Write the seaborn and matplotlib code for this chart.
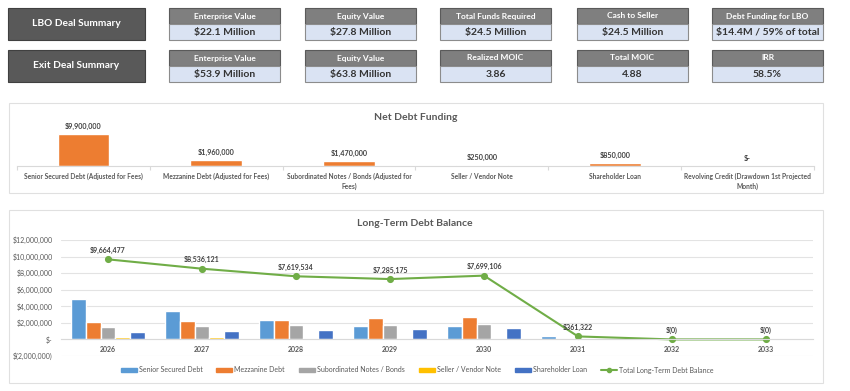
import textwrap
import numpy as np
import pandas as pd
import matplotlib
matplotlib.use("Agg")
import matplotlib.pyplot as plt
import matplotlib.patches as mpatches
from matplotlib.lines import Line2D
from matplotlib.ticker import FuncFormatter
import seaborn as sns

# ---------------- data ----------------
row_titles = ["LBO Deal Summary", "Exit Deal Summary"]
lbo_kpi_titles = ["Enterprise Value", "Equity Value", "Total Funds Required",
                  "Cash to Seller", "Debt Funding for LBO"]
lbo_kpi_values = ["$22.1 Million", "$27.8 Million", "$24.5 Million",
                  "$24.5 Million", "$14.4M / 59% of total"]
exit_kpi_titles = ["Enterprise Value", "Equity Value", "Realized MOIC",
                   "Total MOIC", "IRR"]
exit_kpi_values = ["$53.9 Million", "$63.8 Million", "3.86", "4.88", "58.5%"]

funding_labels = ["Senior Secured Debt (Adjusted for Fees)",
                  "Mezzanine Debt (Adjusted for Fees)",
                  "Subordinated Notes / Bonds (Adjusted for Fees)",
                  "Seller / Vendor Note",
                  "Shareholder Loan",
                  "Revolving Credit (Drawdown 1st Projected Month)"]
funding_values = [9900000, 1960000, 1470000, 250000, 850000, 0]

years = ["2026", "2027", "2028", "2029", "2030", "2031", "2032", "2033"]
senior = [4850000, 3400000, 2350000, 1660000, 1680000, 361322, 0, 0]
mezzanine = [2050000, 2200000, 2400000, 2550000, 2680000, 0, 0, 0]
subordinated = [1560000, 1600000, 1720000, 1780000, 1920000, 0, 0, 0]
seller_note = [250000, 250000, 0, 0, 0, 0, 0, 0]
shareholder = [950000, 1050000, 1150000, 1290000, 1420000, 0, 0, 0]
total_debt = [9664477, 8536121, 7619534, 7285175, 7699106, 361322, -0.4, -0.4]

series_names = ["Senior Secured Debt", "Mezzanine Debt", "Subordinated Notes / Bonds",
                "Seller / Vendor Note", "Shareholder Loan"]
series_colors = ["#5b9bd5", "#ed7d31", "#a5a5a5", "#ffc000", "#4472c4"]
line_name = "Total Long-Term Debt Balance"
line_color = "#70ad47"

# ---------------- style ----------------
sns.set_theme(style="white")
plt.rcParams["font.family"] = ["Lato", "DejaVu Sans"]
TXT = "#595959"

W, H = 850, 391
fig = plt.figure(figsize=(W / 100, H / 100), dpi=100)
fig.patch.set_facecolor("white")


def fx(px):
    return px / W


def fy(py):
    return 1 - py / H


def rect(x0, y0, x1, y1, fc, ec, lw=0.8, z=-5):
    r = mpatches.Rectangle((fx(x0), fy(y1)), fx(x1) - fx(x0), fy(y0) - fy(y1),
                           transform=fig.transFigure, facecolor=fc, edgecolor=ec,
                           linewidth=lw, zorder=z)
    fig.add_artist(r)


def money(v):
    if abs(v) < 0.5 and v >= 0:
        return "$-"
    if v < 0:
        return "$({:,.0f})".format(abs(v))
    return "${:,.0f}".format(v)


# ---------------- KPI header rows ----------------
card_x = [169, 305, 440, 577, 712]
card_w = 111
row_y = [8, 50]
for r, (title, ktitles, kvalues) in enumerate(zip(row_titles,
                                                  [lbo_kpi_titles, exit_kpi_titles],
                                                  [lbo_kpi_values, exit_kpi_values])):
    y0 = row_y[r]
    rect(8, y0, 145, y0 + 32, "#595959", "#404040", 0.8)
    fig.text(fx(76.5), fy(y0 + 16), title, color="white", fontsize=7.3,
             fontweight="bold", ha="center", va="center")
    for cx, kt, kv in zip(card_x, ktitles, kvalues):
        rect(cx, y0, cx + card_w, y0 + 16, "#7f7f7f", "#5a5a5a", 0.8)
        rect(cx, y0 + 16, cx + card_w, y0 + 32, "#dae3f3", "#8c8c8c", 0.8)
        fig.text(fx(cx + card_w / 2), fy(y0 + 8), kt, color="white", fontsize=6,
                 fontweight="bold", ha="center", va="center")
        fig.text(fx(cx + card_w / 2), fy(y0 + 24.5), kv, color="#333333", fontsize=7.5,
                 fontweight="bold", ha="center", va="center")

# ---------------- Net Debt Funding ----------------
rect(9, 103, 823, 193, "white", "#e0e0e0", 0.8)
fig.text(fx(416), fy(117), "Net Debt Funding", color=TXT, fontsize=7.5,
         fontweight="bold", ha="center", va="center")

ax1 = fig.add_axes([fx(17), fy(166), fx(814) - fx(17), fy(110) - fy(166)])
ax1.set_facecolor("none")
wrapped = [textwrap.fill(t, 40) for t in funding_labels]
sns.barplot(x=wrapped, y=funding_values, color="#ed7d31", width=0.39,
            saturation=1, ax=ax1)
ax1.set_ylim(0, 17.5e6)
ax1.set_xlim(-0.5, 5.5)
ax1.set_yticks([])
ax1.set_ylabel("")
for s in ["top", "left", "right"]:
    ax1.spines[s].set_visible(False)
ax1.spines["bottom"].set_color("#d9d9d9")
ax1.spines["bottom"].set_linewidth(0.8)
ax1.set_xticks(np.arange(-0.5, 6, 1), minor=True)
ax1.tick_params(axis="x", which="minor", length=3, color="#d9d9d9", width=0.8, bottom=True)
ax1.tick_params(axis="x", which="major", length=0, pad=5, labelsize=4.8, labelcolor=TXT)
for lab in ax1.get_xticklabels():
    lab.set_fontweight("bold")
    lab.set_linespacing(1.5)
ax1.bar_label(ax1.containers[0], labels=[money(v) for v in funding_values],
              padding=3, fontsize=5.2, fontweight="bold", color="#404040")

# ---------------- Long-Term Debt Balance ----------------
rect(9, 210, 823, 383, "white", "#e0e0e0", 0.8)
fig.text(fx(415), fy(224), "Long-Term Debt Balance", color=TXT, fontsize=7.5,
         fontweight="bold", ha="center", va="center")

ax2 = fig.add_axes([fx(61), fy(356), fx(813) - fx(61), fy(240) - fy(356)])
ax2.set_facecolor("none")

df = pd.DataFrame({
    "year": years * 5,
    "series": np.repeat(series_names, len(years)),
    "value": senior + mezzanine + subordinated + seller_note + shareholder,
})
sns.barplot(data=df, x="year", y="value", hue="series", hue_order=series_names,
            palette=series_colors, width=0.78, saturation=1, legend=False, ax=ax2)
sns.pointplot(x=years, y=total_debt, color=line_color, markers="o",
              markersize=4, linewidth=1.5, ax=ax2)

ax2.set_ylim(-2e6, 12e6)
ax2.set_xlim(-0.5, 7.5)
ax2.set_yticks(np.arange(-2e6, 12.1e6, 2e6))
ax2.yaxis.set_major_formatter(FuncFormatter(lambda v, p: money(v)))
ax2.yaxis.grid(True, color="#e3e3e3", linewidth=0.8)
ax2.set_axisbelow(True)
ax2.set_xlabel("")
ax2.set_ylabel("")
for s in ["top", "left", "right"]:
    ax2.spines[s].set_visible(False)
ax2.spines["bottom"].set_position(("data", 0))
ax2.spines["bottom"].set_color("#d9d9d9")
ax2.spines["bottom"].set_linewidth(0.8)
ax2.tick_params(axis="x", length=0, pad=5, labelsize=5, labelcolor=TXT)
ax2.tick_params(axis="y", length=0, pad=6, labelsize=5, labelcolor=TXT)
for lab in ax2.get_xticklabels():
    lab.set_fontweight("bold")

for i, v in enumerate(total_debt):
    ax2.annotate(money(v), (i, v), xytext=(0, 4), textcoords="offset points",
                 ha="center", va="bottom", fontsize=5, fontweight="bold",
                 color="#404040")

handles = [mpatches.Patch(color=c, label=n) for n, c in zip(series_names, series_colors)]
handles.append(Line2D([], [], color=line_color, marker="o", markersize=3,
                      linewidth=1.5, label=line_name))
leg = fig.legend(handles=handles, loc="center", bbox_to_anchor=(fx(417), fy(370)),
                 ncol=6, frameon=False, fontsize=5, handlelength=2.3,
                 handleheight=0.6, columnspacing=2.0, handletextpad=0.3)
for t in leg.get_texts():
    t.set_color(TXT)

fig.savefig("out.png", dpi=100, facecolor="white")
